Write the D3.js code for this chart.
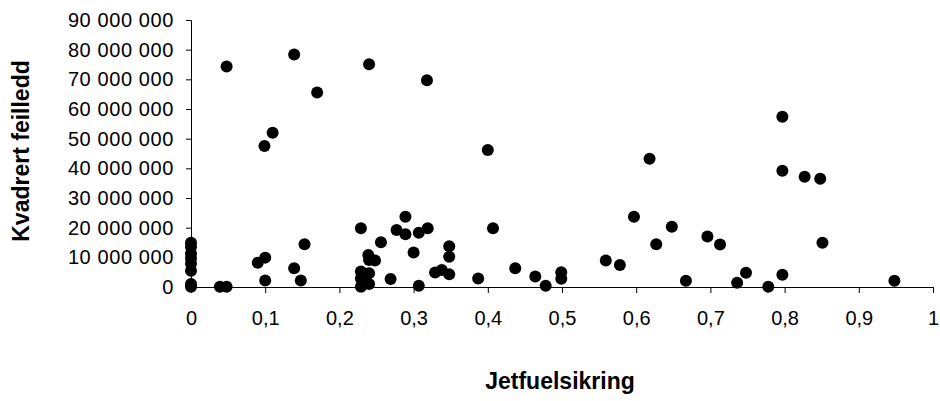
<!DOCTYPE html>
<html lang="no">
<head>
    <meta charset="UTF-8">
    <title>Kvadrert feilledd mot jetfuelsikring</title>
    <script src="https://cdn.jsdelivr.net/npm/d3@7"></script>
    <style>
        body {
            margin: 0;
            background: #fff;
            font-family: "Liberation Sans", Arial, sans-serif;
        }
        svg { display: block; }
        .axis path, .axis line { stroke: #000; }
        .axis text { fill: #000; }
    </style>
</head>
<body>
<svg width="940" height="401"></svg>
<script>
    // jetfuelsikring (x) og kvadrert feilledd (y, i millioner)
    const hedge = [
        0, 0, 0, 0, 0, 0, 0, 0,
        0.039, 0.048, 0.048, 0.090, 0.100, 0.100, 0.099, 0.110,
        0.139, 0.139, 0.148, 0.153, 0.170,
        0.229, 0.229, 0.229, 0.229, 0.240, 0.240, 0.240, 0.239, 0.248, 0.240,
        0.256, 0.269, 0.277, 0.289, 0.289, 0.300, 0.307, 0.307, 0.318, 0.319,
        0.329, 0.338, 0.348, 0.348, 0.348, 0.387, 0.400, 0.407, 0.437,
        0.464, 0.478, 0.499, 0.499, 0.559, 0.578, 0.597, 0.618, 0.627, 0.648,
        0.667, 0.696, 0.713, 0.736, 0.748, 0.778, 0.797, 0.797, 0.797,
        0.827, 0.848, 0.851, 0.948
    ];
    const sqErr = [
        14.9, 13.6, 11.3, 9.7, 7.8, 5.5, 1.0, 0.1,
        0.1, 0.1, 74.3, 8.2, 9.9, 2.2, 47.5, 52.0,
        78.4, 6.3, 2.2, 14.4, 65.6,
        19.8, 5.2, 2.9, 0.1, 4.6, 1.0, 75.1, 10.8, 8.9, 9.1,
        15.1, 2.7, 19.2, 23.7, 17.8, 11.6, 18.3, 0.4, 69.7, 19.8,
        4.9, 5.7, 4.3, 13.7, 10.2, 2.9, 46.2, 19.8, 6.3,
        3.5, 0.4, 5.0, 2.8, 8.9, 7.4, 23.7, 43.2, 14.4, 20.3,
        2.1, 17.0, 14.3, 1.4, 4.8, 0.1, 57.4, 39.2, 4.1,
        37.2, 36.5, 14.9, 2.1
    ];
    const xTitle = "Jetfuelsikring";
    const yTitle = "Kvadrert feilledd";

    const svg = d3.select("svg");
    const plotLeft = 191, plotRight = 933, plotTop = 20, plotBottom = 287;

    const no = d3.formatLocale({decimal: ",", thousands: " ", grouping: [3], currency: ["", ""]});

    const x = d3.scaleLinear().domain([0, 1]).range([plotLeft, plotRight]);
    const y = d3.scaleLinear().domain([0, 90000000]).range([plotBottom, plotTop]);

    svg.append("g")
        .attr("class", "axis")
        .attr("transform", `translate(0,${plotBottom})`)
        .call(d3.axisBottom(x).ticks(10).tickSize(6).tickPadding(18).tickSizeOuter(6)
            .tickFormat(no.format(".1~f")))
        .call(g => g.selectAll("text").attr("font-size", 20).attr("font-family", "Liberation Sans, Arial"));

    svg.append("g")
        .attr("class", "axis")
        .attr("transform", `translate(${plotLeft},0)`)
        .call(d3.axisLeft(y).ticks(9).tickSize(5).tickPadding(12).tickSizeOuter(5)
            .tickFormat(no.format(",d")))
        .call(g => g.selectAll("text")
            .attr("font-size", 20)
            .attr("letter-spacing", 0.6)
            .attr("font-family", "Liberation Sans, Arial"));

    svg.append("g")
        .selectAll("circle")
        .data(hedge)
        .join("circle")
        .attr("cx", d => x(d))
        .attr("cy", (d, i) => y(sqErr[i] * 1e6))
        .attr("r", 6)
        .attr("fill", "#000");

    svg.append("text")
        .attr("x", 560).attr("y", 389)
        .attr("text-anchor", "middle")
        .attr("font-size", 23).attr("font-weight", "bold")
        .text(xTitle);

    svg.append("text")
        .attr("transform", "translate(29,151) rotate(-90)")
        .attr("text-anchor", "middle")
        .attr("font-size", 23).attr("font-weight", "bold")
        .text(yTitle);
</script>
</body>
</html>
